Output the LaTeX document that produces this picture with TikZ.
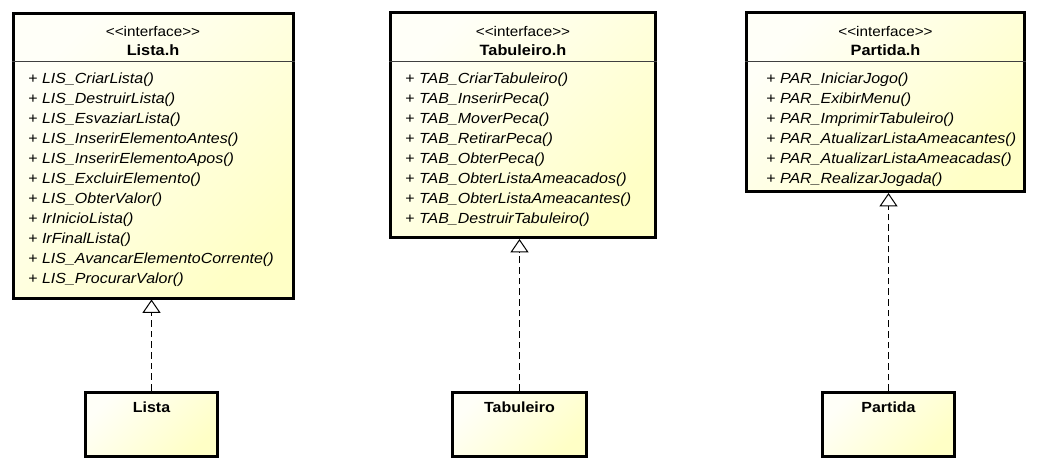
\documentclass[tikz,border=0pt]{standalone}
\usepackage{fontspec}
\setmainfont{Liberation Sans}[FakeStretch=1.09]
\usetikzlibrary{arrows.meta}
\definecolor{umlfill}{RGB}{255,255,198}
\definecolor{umltop}{RGB}{255,255,248}

\begin{document}
\begin{tikzpicture}[x=0.75pt,y=-0.75pt,
  iface/.style={draw,line width=2.25pt,top color=umltop,bottom color=umlfill,shading angle=45,inner sep=0pt},
  cls/.style={iface,font=\fontsize{11}{12}\selectfont\bfseries,text height=15pt,text depth=33pt},
  stereo/.style={font=\fontsize{10.5}{12}\selectfont},
  ifname/.style={font=\fontsize{11.2}{12}\selectfont\bfseries},
  op/.style={anchor=west,inner sep=0pt,font=\fontsize{11}{12}\selectfont},
  sepline/.style={black!75,line width=0.75pt},
  impl/.style={line width=0.75pt,dash pattern=on 5pt off 3pt,-{Triangle[open,length=10pt,width=13.5pt]}}]
\useasboundingbox (0,0) rectangle (1043,469);
%\draw[help lines] (0,0) grid (1043,469);

% Lista.h
\node (listaH) at (153,155.5) [iface,minimum width=210pt,minimum height=213.75pt] {};
\node (listaSt) at (153,31) [stereo] {<\kern0pt<interface>\kern0pt>};
\node (listaT) at (153,50) [ifname] {Lista.h};
\draw [sepline] ([yshift=-37.5pt]listaH.north west) -- ([yshift=-37.5pt]listaH.north east);
\foreach \op [count=\k from 0] in {LIS\_CriarLista(),LIS\_DestruirLista(),LIS\_EsvaziarLista(),
  LIS\_InserirElementoAntes(),LIS\_InserirElementoApos(),LIS\_ExcluirElemento(),LIS\_ObterValor(),
  IrInicioLista(),IrFinalLista(),LIS\_AvancarElementoCorrente(),LIS\_ProcurarValor()}
  \node (listaOp\k) at (28,80+20*\k) [op] {+ \textit{\op}};

% Tabuleiro.h
\node (tabH) at (523,125.25) [iface,minimum width=198.75pt,minimum height=168.4pt] {};
\node (tabSt) at (523,31) [stereo] {<\kern0pt<interface>\kern0pt>};
\node (tabT) at (523,50) [ifname] {Tabuleiro.h};
\draw [sepline] ([yshift=-37.5pt]tabH.north west) -- ([yshift=-37.5pt]tabH.north east);
\foreach \op [count=\k from 0] in {TAB\_CriarTabuleiro(),TAB\_InserirPeca(),TAB\_MoverPeca(),
  TAB\_RetirarPeca(),TAB\_ObterPeca(),TAB\_ObterListaAmeacados(),TAB\_ObterListaAmeacantes(),
  TAB\_DestruirTabuleiro()}
  \node (tabOp\k) at (405,80+20*\k) [op] {+ \textit{\op}};

% Partida.h
\node (partH) at (885.5,102.25) [iface,minimum width=208.5pt,minimum height=133.9pt] {};
\node (partSt) at (885.5,31) [stereo] {<\kern0pt<interface>\kern0pt>};
\node (partT) at (885.5,50) [ifname] {Partida.h};
\draw [sepline] ([yshift=-37.5pt]partH.north west) -- ([yshift=-37.5pt]partH.north east);
\foreach \op [count=\k from 0] in {PAR\_IniciarJogo(),PAR\_ExibirMenu(),PAR\_ImprimirTabuleiro(),
  PAR\_AtualizarListaAmeacantes(),PAR\_AtualizarListaAmeacadas(),PAR\_RealizarJogada()}
  \node (partOp\k) at (766,80+20*\k) [op] {+ \textit{\op}};

% classes
\node (lista) at (151.5,424) [cls,minimum width=99pt] {Lista};
\node (tab) at (519.5,424.5) [cls,minimum width=100.5pt] {Tabuleiro};
\node (part) at (888.5,424.5) [cls,minimum width=99pt] {Partida};

\draw [impl] (lista) -- (lista |- listaH.south);
\draw [impl] (tab) -- (tab |- tabH.south);
\draw [impl] (part) -- (part |- partH.south);
\end{tikzpicture}
\end{document}
